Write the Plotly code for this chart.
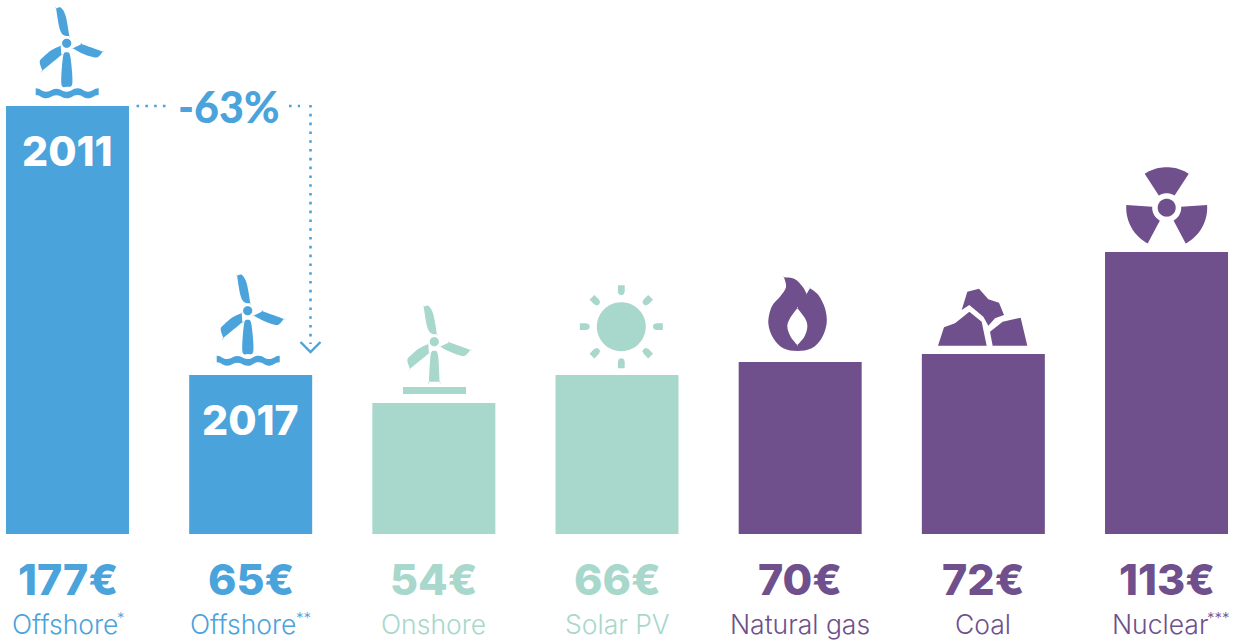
import math
import plotly.graph_objects as go

# ---------- data ----------
categories = ["Offshore 2011", "Offshore 2017", "Onshore", "Solar PV", "Natural gas", "Coal", "Nuclear"]
value_labels = ["177€", "65€", "54€", "66€", "70€", "72€", "113€"]
name_labels = ["Offshore", "Offshore", "Onshore", "Solar PV", "Natural gas", "Coal", "Nuclear"]
note_marks = ["*", "**", "", "", "", "", "***"]
# heights as drawn in the picture (the artwork is not strictly to scale)
bar_heights = [177, 65.8, 54.2, 65.8, 71.1, 74.4, 116.6]
year_labels = ["2011", "2017", "", "", "", "", ""]
change_label = "-63%"

BLUE = "#4BA3DC"
MINT = "#A8D7CC"
PURPLE = "#6F508C"
bar_colors = [BLUE, BLUE, MINT, MINT, PURPLE, PURPLE, PURPLE]

W, H = 1235, 640
PX_PER_UNIT = 428 / 177
BASE = 534
STEP = 183.17
FIRST = 67.5
y_range = [-(H - BASE) / PX_PER_UNIT, BASE / PX_PER_UNIT]
x_range = [-FIRST / STEP, (W - FIRST) / STEP]
idx = list(range(len(categories)))

fig = go.Figure(go.Bar(x=idx, y=bar_heights, width=123 / STEP, marker=dict(color=bar_colors, line_width=0),
                       hovertext=categories, hoverinfo="text"))


# ---------- pixel helpers for the decorative icons ----------
def pt(x, y):
    return f"{x / W:.5f},{1 - y / H:.5f}"


def poly(points):
    return "M" + " L".join(pt(x, y) for x, y in points) + " Z"


def smooth(points):
    """closed Catmull-Rom curve; a doubled point gives a corner"""
    n = len(points)
    out = "M" + pt(*points[0])
    for i in range(n):
        p0, p1, p2, p3 = points[i - 1], points[i], points[(i + 1) % n], points[(i + 2) % n]
        c1 = (p1[0] + (p2[0] - p0[0]) / 6, p1[1] + (p2[1] - p0[1]) / 6)
        c2 = (p2[0] - (p3[0] - p1[0]) / 6, p2[1] - (p3[1] - p1[1]) / 6)
        out += f" C{pt(*c1)} {pt(*c2)} {pt(*p2)}"
    return out + " Z"


def circle(cx, cy, r, n=48):
    return poly([(cx + r * math.cos(2 * math.pi * i / n), cy + r * math.sin(2 * math.pi * i / n)) for i in range(n)])


shapes = []


def add_fill(path, color):
    shapes.append(dict(type="path", xref="paper", yref="paper", path=path, fillcolor=color,
                       line=dict(width=0), layer="above"))


def add_line(points, color, width, dash="solid"):
    path = "M" + " L".join(pt(x, y) for x, y in points)
    shapes.append(dict(type="path", xref="paper", yref="paper", path=path,
                       line=dict(color=color, width=width, dash=dash), layer="above"))


def turbine(hx, hy, color, flat=False):
    z = lambda pts: [(hx + a / 3, hy + b / 3) for a, b in pts]
    add_fill(circle(hx, hy, 4.6), color)
    add_fill(smooth(z([(-32, -105), (-32, -105), (-17, -107), (-3, -82), (8, -22), (8, -22), (-10, -25), (-22, -47)])), color)
    add_fill(smooth(z([(18, 15), (18, 15), (45, 2), (45, 2), (108, 25), (108, 25), (92, 42), (70, 39), (42, 28)])), color)
    add_fill(smooth(z([(-18, 7), (-18, 7), (-16, 35), (-16, 35), (-73, 82), (-73, 82), (-81, 55), (-70, 41), (-45, 20)])), color)
    if flat:
        add_fill(smooth(z([(-16, 120), (-16, 120), (-11, 40), (0, 27), (11, 40), (16, 120), (16, 120)])), color)
    else:
        add_fill(smooth(z([(-16, 122), (-11, 40), (0, 27), (11, 40), (17, 120), (0, 130)])), color)


def waves(hx, hy, color):
    z = lambda a, b: (hx + a / 3, hy + b / 3)
    xs = [-93, -62, -31, 0, 33, 64, 96]
    tops = [135, 145, 136, 145, 135, 145, 135]
    upper = [z(a, b) for a, b in zip(xs, tops)]
    lower = [z(a, b + 20) for a, b in zip(xs, tops)]
    path = "M" + pt(*upper[0])
    for i in range(0, 6):
        mx = (upper[i][0] + upper[i + 1][0]) / 2
        path += f" C{pt(mx, upper[i][1])} {pt(mx, upper[i + 1][1])} {pt(*upper[i + 1])}"
    path += " L" + pt(*lower[6])
    for i in range(6, 0, -1):
        mx = (lower[i][0] + lower[i - 1][0]) / 2
        path += f" C{pt(mx, lower[i][1])} {pt(mx, lower[i - 1][1])} {pt(*lower[i - 1])}"
    add_fill(path + " Z", color)


# offshore / onshore turbines
turbine(66.7, 43.3, BLUE)
waves(66.7, 43.3, BLUE)
turbine(247.7, 310.7, BLUE)
waves(247.7, 310.7, BLUE)
turbine(434.3, 341.7, MINT, flat=True)
add_fill(poly([(403, 387), (466, 387), (466, 394), (403, 394)]), MINT)

# sun
sx, sy = 621.3, 326.7
add_fill(circle(sx, sy, 24.5), MINT)
for k in range(8):
    a = k * math.pi / 4
    ux, uy = math.cos(a), math.sin(a)
    vx, vy = -uy, ux
    ray = []
    for r, s in [(41.5, -3.4), (41.5, 3.4), (35, 3.4), (32.4, 2.4), (31.5, 0), (32.4, -2.4), (35, -3.4)]:
        ray.append((sx + r * ux + s * vx, sy + r * uy + s * vy))
    add_fill(poly(ray), MINT)

# flame
fz = lambda pts: [(560 + a / 3, 270 + b / 3) for a, b in pts]
flame = smooth(fz([(672, 22), (672, 22), (704, 27), (728, 50), (740, 72), (740, 72), (750, 55), (750, 55), (775, 75),
                   (795, 115), (800, 160), (785, 205), (755, 235), (712, 243), (670, 235), (640, 205), (625, 160),
                   (635, 110), (660, 80), (678, 52)]))
hole = smooth(fz([(712, 115), (712, 115), (690, 145), (682, 170), (692, 200), (712, 225), (712, 225), (733, 200),
                  (742, 170), (735, 145)]))
add_fill(flame + " " + hole, PURPLE)

# coal
cz = lambda pts: [(920 + a / 3, 160 + b / 3) for a, b in pts]
add_fill(poly(cz([(125, 450), (142, 395), (177, 386), (205, 418), (237, 428), (252, 465), (225, 475), (205, 497),
                  (190, 470), (148, 435)])), PURPLE)
add_fill(poly(cz([(54, 557), (72, 502), (105, 490), (148, 455), (185, 485), (200, 557)])), PURPLE)
add_fill(poly(cz([(218, 557), (210, 515), (248, 485), (302, 473), (322, 557)])), PURPLE)

# nuclear
nx, ny = 1166.7, 207.7
add_fill(circle(nx, ny, 9), PURPLE)
for mid in (-90, 29, 151):
    pts = []
    for d in range(-33, 34, 3):
        a = math.radians(mid + d)
        pts.append((nx + 40.5 * math.cos(a), ny + 40.5 * math.sin(a)))
    for d in range(33, -34, -3):
        a = math.radians(mid + d)
        pts.append((nx + 14.5 * math.cos(a), ny + 14.5 * math.sin(a)))
    add_fill(poly(pts), PURPLE)

# dotted change indicator
DOT = "2.6px,6.2px"
add_line([(136.5, 106), (166, 106)], BLUE, 2.6, DOT)
add_line([(289, 106), (300, 106)], BLUE, 2.6, DOT)
add_line([(310.5, 105), (310.5, 344)], BLUE, 2.6, DOT)
add_line([(300.5, 342), (310.5, 352), (320.5, 342)], BLUE, 2.4)

# ---------- text ----------
FONT = "Inter"
name_shift = [-3, -7.5, 0, 0, 0, 0, -6.5]
mark_x = [115, 294, 0, 0, 0, 0, 1205]
annotations = []
for i in idx:
    annotations.append(dict(x=i, y=-(578.5 - BASE) / PX_PER_UNIT, xref="x", yref="y", text=value_labels[i],
                            showarrow=False, xanchor="center", yanchor="middle",
                            font=dict(family=FONT, size=43, color=bar_colors[i], weight=800)))
    annotations.append(dict(x=i, y=-(624 - BASE) / PX_PER_UNIT, xref="x", yref="y", text=name_labels[i],
                            xshift=name_shift[i], showarrow=False, xanchor="center", yanchor="middle",
                            font=dict(family=FONT, size=26.5, color=bar_colors[i], weight=300)))
    if note_marks[i]:
        annotations.append(dict(x=mark_x[i] / W, y=1 - 617 / H, xref="paper", yref="paper", text=note_marks[i],
                                showarrow=False, xanchor="left", yanchor="middle",
                                font=dict(family=FONT, size=15, color=bar_colors[i], weight=300)))
    if year_labels[i]:
        annotations.append(dict(x=i, y=bar_heights[i] - 45 / PX_PER_UNIT, xref="x", yref="y", text=year_labels[i],
                                showarrow=False, xanchor="center", yanchor="middle",
                                font=dict(family=FONT, size=41, color="white", weight=800)))
annotations.append(dict(x=228.5 / W, y=1 - 106 / H, xref="paper", yref="paper", text=change_label, showarrow=False,
                        xanchor="center", yanchor="middle",
                        font=dict(family="Lato", size=43, color=BLUE, weight=900)))

fig.update_layout(
    width=W, height=H, margin=dict(l=0, r=0, t=0, b=0), autosize=False,
    paper_bgcolor="white", plot_bgcolor="white", showlegend=False,
    xaxis=dict(visible=False, range=x_range, fixedrange=True),
    yaxis=dict(visible=False, range=y_range, fixedrange=True),
    shapes=shapes, annotations=annotations,
)

fig.write_html("out.html", config=dict(displayModeBar=False),
               post_script="document.body.style.margin='0';document.documentElement.style.overflow='hidden';")
